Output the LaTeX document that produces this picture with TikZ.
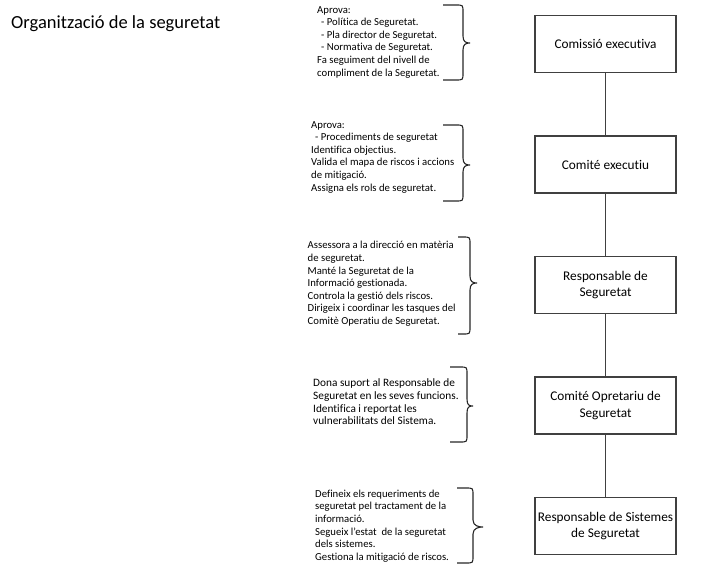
\documentclass[tikz,border=0pt]{standalone}
\usepackage{fontspec}
\setmainfont{Carlito}[Ligatures=NoCommon]
\definecolor{edge}{HTML}{404040}
\tikzset{
  orgbox/.style={draw=edge, line width=1.3bp, minimum width=141bp, minimum height=57bp,
    align=center, inner sep=2bp, font=\fontsize{13.3bp}{16.5bp}\selectfont},
  note/.style={anchor=west, align=left, inner sep=0pt, font=\fontsize{10.7bp}{12.6bp}\selectfont},
  bignote/.style={note, font=\fontsize{11.3bp}{12.6bp}\selectfont},
  brc/.style={draw=black!85, line width=1.1bp},
  link/.style={draw=edge, line width=1.3bp}
}
\newcommand\rbr[6]{% x0 xv xt ytop ymid ybot
  \draw[brc] (#1,#4) -- (#2-7,#4) .. controls (#2,#4) .. (#2,#4+7) -- (#2,#5-7)
    .. controls (#2,#5-1) and (#3-4,#5) .. (#3,#5)
    .. controls (#3-4,#5) and (#2,#5+1) .. (#2,#5+7) -- (#2,#6-7)
    .. controls (#2,#6) .. (#2-7,#6) -- (#1,#6);}
\begin{document}
\begin{tikzpicture}[x=1bp,y=-1bp]
\useasboundingbox (0,0) rectangle (716,570);
\node[anchor=base west, inner sep=0pt, font=\fontsize{18.5bp}{22bp}\selectfont] (title) at (11,29) {Organització de la seguretat};

\node[orgbox] (b1) at (605.5,44) {Comissió executiva};
\node[orgbox] (b2) at (605.5,164.5) {Comité executiu};
\node[orgbox] (b3) at (605.5,285) {Responsable de\\Seguretat};
\node[orgbox] (b4) at (605.5,405.5) {Comité Opretariu de\\Seguretat};
\node[orgbox] (b5) at (605.5,526) {Responsable de Sistemes\\de Seguretat};
\draw[link] (b1) -- (b2);
\draw[link] (b2) -- (b3);
\draw[link] (b3) -- (b4);
\draw[link] (b4) -- (b5);

\node[note] (t1) at (317,42) {Aprova:\\\hspace*{4bp}- Política de Seguretat.\\\hspace*{4bp}- Pla director de Seguretat.\\\hspace*{4bp}- Normativa de Seguretat.\\Fa seguiment del nivell de\\compliment de la Seguretat.};
\node[note] (t2) at (311,157) {Aprova:\\\hspace*{4bp}- Procediments de seguretat\\Identifica objectius.\\Valida el mapa de riscos i accions\\de mitigació.\\Assigna els rols de seguretat.};
\node[note] (t3) at (307.5,284) {Assessora a la direcció en matèria\\de seguretat.\\Manté la Seguretat de la\\Informació gestionada.\\Controla la gestió dels riscos.\\Dirigeix i coordinar les tasques del\\Comitè Operatiu de Seguretat.};
\node[bignote] (t4) at (313,402) {Dona suport al Responsable de\\Seguretat en les seves funcions.\\Identifica i reportat les\\vulnerabilitats del Sistema.};
\node[note] (t5) at (315,526) {Defineix els requeriments de\\seguretat pel tractament de la\\informació.\\Segueix l’estat\ \ de la seguretat\\dels sistemes.\\Gestiona la mitigació de riscos.};

\rbr{443}{463}{470}{5}{43}{80}
\rbr{443}{463}{470}{125}{165}{201}
\rbr{458}{470}{477}{237}{283}{334}
\rbr{450}{467}{473}{367}{406}{442}
\rbr{457}{473}{483}{488}{527}{563}
\end{tikzpicture}
\end{document}
